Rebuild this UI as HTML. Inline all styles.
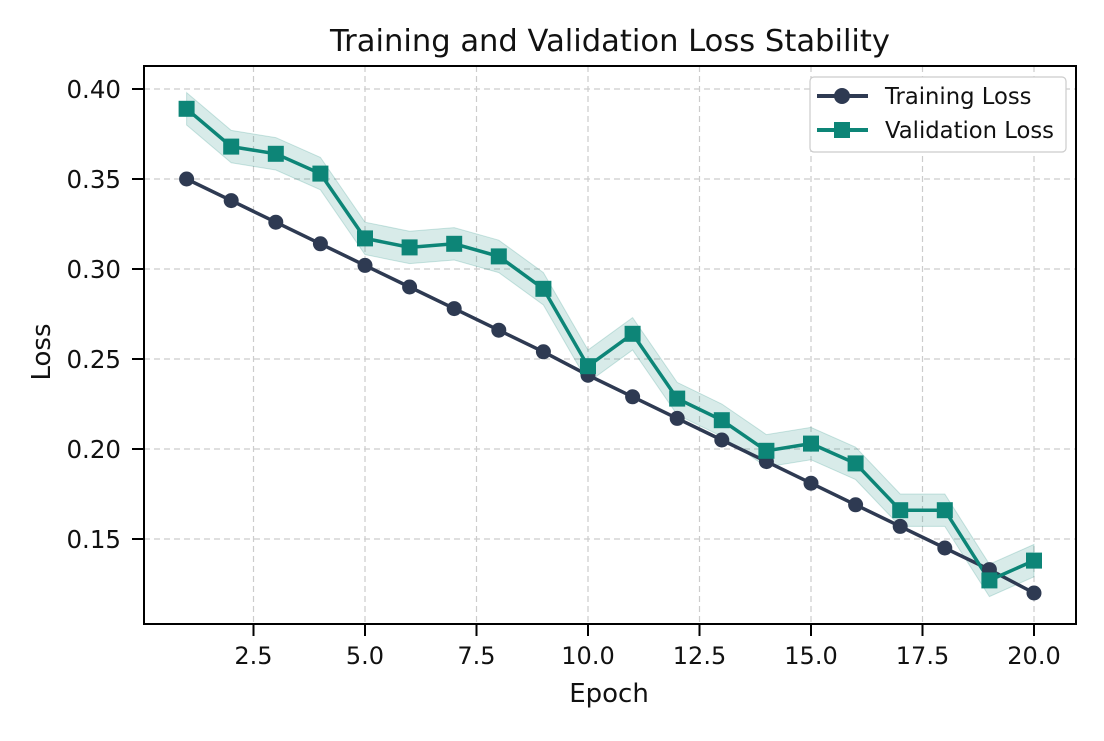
<!DOCTYPE html>
<html><head><meta charset="utf-8">
<style>
body{margin:0;background:#fff;}
svg text{font-family:"DejaVu Sans","Liberation Sans",sans-serif;fill:#111;}
</style></head>
<body>
<svg id="chart" width="1104" height="736" xmlns="http://www.w3.org/2000/svg">
<rect width="1104" height="736" fill="#fff"/>
<g id="grid"></g>
<g id="band"></g>
<g id="series"></g>
<rect x="144" y="66" width="932" height="558" fill="none" stroke="#000" stroke-width="2"/>
<g id="ticks"></g>
<text x="610" y="51" text-anchor="middle" font-size="30" textLength="560" lengthAdjust="spacingAndGlyphs">Training and Validation Loss Stability</text>
<text x="609" y="702" text-anchor="middle" font-size="26">Epoch</text>
<text transform="translate(50,352) rotate(-90)" text-anchor="middle" font-size="26">Loss</text>
<g>
<rect x="810" y="77" width="256" height="75" rx="4" fill="#fff" stroke="#ccc" stroke-width="1.2"/>
<g>
<line x1="817" y1="96" x2="868" y2="96" stroke="#2e3a52" stroke-width="4"/>
<circle cx="842" cy="96" r="8" fill="#2e3a52"/>
<text x="885" y="104" font-size="22.7">Training Loss</text></g>
<g>
<line x1="817" y1="130" x2="868" y2="130" stroke="#0d8577" stroke-width="4"/>
<rect x="834" y="122" width="16" height="16" fill="#0d8577"/>
<text x="885" y="138" font-size="22.7">Validation Loss</text></g>
</g>
</svg>
<script>
const epochs=[1,2,3,4,5,6,7,8,9,10,11,12,13,14,15,16,17,18,19,20];
const trainLoss=[0.350,0.338,0.326,0.314,0.302,0.290,0.278,0.266,0.254,0.241,0.229,0.217,0.205,0.193,0.181,0.169,0.157,0.145,0.133,0.120];
const valLoss=[0.389,0.368,0.364,0.353,0.317,0.312,0.314,0.307,0.289,0.246,0.264,0.228,0.216,0.199,0.203,0.192,0.166,0.166,0.127,0.138];
const valBand=0.009;
const xTicks=[2.5,5.0,7.5,10.0,12.5,15.0,17.5,20.0];
const yTicks=[0.15,0.20,0.25,0.30,0.35,0.40];
const NS="http://www.w3.org/2000/svg";
const X=v=>365+(v-5)*44.6;
const Y=v=>89+(0.40-v)/0.05*90;
function mk(tag,attrs,parent){const e=document.createElementNS(NS,tag);for(const k in attrs)e.setAttribute(k,attrs[k]);parent.appendChild(e);return e;}
const grid=document.getElementById('grid'),ticks=document.getElementById('ticks'),band=document.getElementById('band'),series=document.getElementById('series');
xTicks.forEach(t=>{
 const g=mk('line',{x1:X(t),x2:X(t),y1:66,y2:624,stroke:'#ccc','stroke-width':1.2,'stroke-dasharray':'6,4'},grid);
 
 
 mk('line',{x1:X(t),x2:X(t),y1:624,y2:636,stroke:'#000','stroke-width':2},ticks);
 const tx=mk('text',{x:X(t),y:664,'text-anchor':'middle','font-size':24},ticks);tx.textContent=t.toFixed(1);
 
 
});
yTicks.forEach(t=>{
 const g=mk('line',{x1:144,x2:1076,y1:Y(t),y2:Y(t),stroke:'#ccc','stroke-width':1.2,'stroke-dasharray':'6,4'},grid);
 
 
 mk('line',{x1:132,x2:144,y1:Y(t),y2:Y(t),stroke:'#000','stroke-width':2},ticks);
 const tx=mk('text',{x:121,y:Y(t)+9,'text-anchor':'end','font-size':24.5},ticks);tx.textContent=t.toFixed(2);
 
 
});
let up=epochs.map((e,i)=>X(e)+','+Y(valLoss[i]+valBand));
let dn=epochs.map((e,i)=>X(e)+','+Y(valLoss[i]-valBand)).reverse();
const bp=mk('polygon',{points:up.concat(dn).join(' '),fill:'#0d8577','fill-opacity':0.16,stroke:'#0d8577','stroke-opacity':0.2},band);


const tl=mk('polyline',{points:epochs.map((e,i)=>X(e)+','+Y(trainLoss[i])).join(' '),fill:'none',stroke:'#2e3a52','stroke-width':3.5},series);


const vl=mk('polyline',{points:epochs.map((e,i)=>X(e)+','+Y(valLoss[i])).join(' '),fill:'none',stroke:'#0d8577','stroke-width':3.5},series);


epochs.forEach((e,i)=>{
 const c=mk('circle',{cx:X(e),cy:Y(trainLoss[i]),r:7.5,fill:'#2e3a52'},series);
 
 
 const r=mk('rect',{x:X(e)-8,y:Y(valLoss[i])-8,width:16,height:16,fill:'#0d8577'},series);
 
 
});
</script>
</body></html>
